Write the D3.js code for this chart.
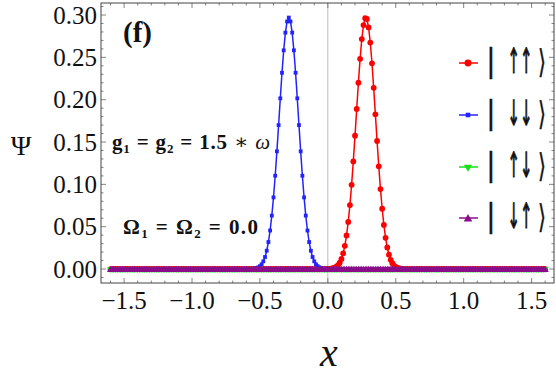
<!DOCTYPE html>
<html>
<head>
<meta charset="utf-8">
<script src="https://cdn.jsdelivr.net/npm/d3@7"></script>
<style>
  body { margin: 0; background: #fff; }
  svg { display: block; }
</style>
</head>
<body>
<svg id="chart" width="556" height="376"></svg>
<script>
// sample positions used by the solver (step 0.0125 from -1.6 to 1.6)
const xGrid = d3.range(-128, 129).map(i => i * 0.0125);

// non-zero part of |up up> , starting at x = 0.0
const upUpStart = 0.0;
const upUpPeak = [0.0001, 0.0002, 0.0005, 0.0009, 0.0016, 0.0027, 0.0046, 0.0075, 0.0119, 0.0184,
    0.0274, 0.0396, 0.0556, 0.0755, 0.0995, 0.1271, 0.1574, 0.1890, 0.2200, 0.2483,
    0.2716, 0.2881, 0.2963, 0.2953, 0.2854, 0.2675, 0.2430, 0.2140, 0.1827, 0.1512,
    0.1213, 0.0944, 0.0712, 0.0521, 0.0369, 0.0254, 0.0169, 0.0109, 0.0068, 0.0041,
    0.0024, 0.0014, 0.0008, 0.0004, 0.0002];

// non-zero part of |down down> , starting at x = -0.5625
const downDownStart = -0.5625;
const downDownPeak = [0.0001, 0.0003, 0.0006, 0.0011, 0.0020, 0.0034, 0.0056, 0.0091, 0.0142, 0.0216,
    0.0319, 0.0455, 0.0631, 0.0846, 0.1102, 0.1390, 0.1700, 0.2016, 0.2318, 0.2583,
    0.2792, 0.2924, 0.2970, 0.2924, 0.2792, 0.2583, 0.2318, 0.2016, 0.1700, 0.1390,
    0.1102, 0.0846, 0.0631, 0.0455, 0.0319, 0.0216, 0.0142, 0.0091, 0.0056, 0.0034,
    0.0020, 0.0011, 0.0006, 0.0003, 0.0001];

const seriesNames = ['upup', 'downdown', 'updown', 'downup'];
const seriesColors = ['#ff0000', '#2323ff', '#16e016', '#8b0d8b'];
const legendArrows = ['↑↑', '↓↓', '↑↓', '↓↑'];

const xTicks = [-1.5, -1.0, -0.5, 0.0, 0.5, 1.0, 1.5];
const yTicks = [0.00, 0.05, 0.10, 0.15, 0.20, 0.25, 0.30];

function chartVis() {
    const root = d3.select('#chart');

    const LEFT = 101, RIGHT = 554, TOP = 3, BOTTOM = 283;

    const x = d3.scaleLinear().domain([-1.67, 1.665]).range([LEFT, RIGHT]);
    const y = d3.scaleLinear().domain([-0.0165, 0.3142]).range([BOTTOM, TOP]);

    const SERIF = '"Liberation Serif", "DejaVu Serif", serif';

    drawFrame();
    drawSeries();
    drawLabels();
    drawLegend();

    function peakValue(xv, start, peak) {
        const k = Math.round((xv - start) / 0.0125);
        return (k >= 0 && k < peak.length) ? peak[k] : 0;
    }

    function makeSymbol(name, g, color) {
        if (name === 'upup') {
            g.append('circle').attr('r', 2.9).attr('fill', color);
        } else if (name === 'downdown') {
            g.append('rect').attr('x', -1.9).attr('y', -1.9).attr('width', 3.8).attr('height', 3.8).attr('fill', color);
        } else if (name === 'updown') {
            g.append('path').attr('d', d3.symbol(d3.symbolTriangle, 20)()).attr('transform', 'rotate(180)').attr('fill', color);
        } else {
            g.append('path').attr('d', d3.symbol(d3.symbolTriangle, 22)()).attr('transform', 'translate(0,0.8)').attr('fill', color);
        }
    }

    function drawFrame() {
        // zero line
        root.append('line')
            .attr('x1', x(0)).attr('x2', x(0))
            .attr('y1', TOP).attr('y2', BOTTOM)
            .attr('stroke', '#bdbdbd').attr('stroke-width', 1);

        const minorX = d3.range(-16, 17).map(i => i / 10);
        minorX.forEach(v => {
            const major = Math.abs(Math.round(v * 2) - v * 2) < 1e-6;
            const len = major ? 5 : 2.5;
            [[BOTTOM, -len], [TOP, len]].forEach(([yy, d]) => {
                root.append('line')
                    .attr('x1', x(v)).attr('x2', x(v))
                    .attr('y1', yy).attr('y2', yy + d)
                    .attr('stroke', '#666').attr('stroke-width', 0.8);
            });
        });
        const minorY = d3.range(-1, 32).map(i => i / 100);
        minorY.forEach(v => {
            const major = Math.abs(Math.round(v * 20) - v * 20) < 1e-6;
            const len = major ? 5 : 2.5;
            [[LEFT, len], [RIGHT, -len]].forEach(([xx, d]) => {
                root.append('line')
                    .attr('x1', xx).attr('x2', xx + d)
                    .attr('y1', y(v)).attr('y2', y(v))
                    .attr('stroke', '#666').attr('stroke-width', 0.8);
            });
        });

        root.append('rect')
            .attr('x', LEFT).attr('y', TOP)
            .attr('width', RIGHT - LEFT).attr('height', BOTTOM - TOP)
            .attr('fill', 'none').attr('stroke', '#444').attr('stroke-width', 1);

        xTicks.forEach(v => {
            root.append('text')
                .text(v < 0 ? '\u2212' + Math.abs(v).toFixed(1) : v.toFixed(1))
                .attr('x', x(v)).attr('y', 309)
                .attr('font-family', SERIF).attr('font-size', 25)
                .attr('fill', '#111').attr('text-anchor', 'middle');
        });
        yTicks.forEach(v => {
            root.append('text')
                .text(v.toFixed(2))
                .attr('x', 97).attr('y', y(v) + 8.5)
                .attr('font-family', SERIF).attr('font-size', 25)
                .attr('fill', '#111').attr('text-anchor', 'end');
        });

        root.append('text').text('Ψ')
            .attr('x', 21).attr('y', 155)
            .attr('font-family', SERIF).attr('font-size', 28)
            .attr('fill', '#111').attr('text-anchor', 'middle');
        root.append('text').text('x')
            .attr('x', 329).attr('y', 366)
            .attr('font-family', SERIF).attr('font-style', 'italic').attr('font-size', 40)
            .attr('fill', '#111').attr('text-anchor', 'middle');
    }

    function drawSeries() {
        const data = {
            upup: xGrid.map(v => [v, peakValue(v, upUpStart, upUpPeak)]),
            downdown: xGrid.map(v => [v, peakValue(v, downDownStart, downDownPeak)]),
            updown: xGrid.map(v => [v, 0]),
            downup: xGrid.map(v => [v, 0]),
        };
        const line = d3.line().x(d => x(d[0])).y(d => y(d[1]));

        seriesNames.forEach((name, i) => {
            const color = seriesColors[i];
            root.append('path')
                .attr('d', line(data[name]))
                .attr('fill', 'none').attr('stroke', color)
                .attr('stroke-width', 1.5);
            data[name].forEach(d => {
                const g = root.append('g')
                    .attr('transform', `translate(${x(d[0])},${y(d[1])})`);
                makeSymbol(name, g, color);
            });
        });
    }

    function drawLabels() {
        root.append('text').text('(f)')
            .attr('x', 123).attr('y', 42)
            .attr('font-family', SERIF).attr('font-weight', 'bold').attr('font-size', 29)
            .attr('fill', '#111');

        const g = root.append('text')
            .attr('x', 112).attr('y', 149)
            .attr('textLength', 158).attr('lengthAdjust', 'spacing')
            .attr('font-family', SERIF).attr('font-weight', 'bold').attr('font-size', 21)
            .attr('fill', '#111');
        g.append('tspan').text('g');
        g.append('tspan').text('1').attr('font-size', 13).attr('dy', 4);
        g.append('tspan').text(' = g').attr('dy', -4);
        g.append('tspan').text('2').attr('font-size', 13).attr('dy', 4);
        g.append('tspan').text(' = 1.5 ').attr('dy', -4);
        g.append('tspan').text('∗ ').attr('font-weight', 'normal');
        g.append('tspan').text('ω').attr('font-weight', 'normal').attr('font-style', 'italic');

        const o = root.append('text')
            .attr('x', 123).attr('y', 234)
            .attr('textLength', 135).attr('lengthAdjust', 'spacing')
            .attr('font-family', SERIF).attr('font-weight', 'bold').attr('font-size', 21)
            .attr('fill', '#111');
        o.append('tspan').text('Ω');
        o.append('tspan').text('1').attr('font-size', 13).attr('dy', 4);
        o.append('tspan').text(' = Ω').attr('dy', -4);
        o.append('tspan').text('2').attr('font-size', 13).attr('dy', 4);
        o.append('tspan').text(' = 0.0').attr('dy', -4);
    }

    function drawLegend() {
        const rowY = [63, 115, 167, 218];
        seriesNames.forEach((name, i) => {
            const color = seriesColors[i];
            const cy = rowY[i];
            root.append('line')
                .attr('x1', 459).attr('x2', 478)
                .attr('y1', cy).attr('y2', cy)
                .attr('stroke', color).attr('stroke-width', 1.5);
            const g = root.append('g').attr('transform', `translate(468,${cy}) scale(1.2)`);
            makeSymbol(name, g, color);

            root.append('text').text('|')
                .attr('transform', `translate(491,${cy + 8}) scale(1,1.25)`)
                .attr('font-family', 'DejaVu Sans').attr('font-size', 26)
                .attr('fill', '#111').attr('stroke', '#111').attr('stroke-width', 0.4)
                .attr('text-anchor', 'middle');
            root.append('text').text(legendArrows[i])
                .attr('transform', `translate(520,${cy + 10}) scale(0.62,1.45)`)
                .attr('font-family', 'DejaVu Sans').attr('font-size', 24)
                .attr('fill', '#111').attr('stroke', '#111').attr('stroke-width', 0.7)
                .attr('text-anchor', 'middle');
            root.append('text').text('⟩')
                .attr('transform', `translate(542,${cy + 10}) scale(0.85,1.35)`)
                .attr('font-family', 'DejaVu Sans').attr('font-size', 24)
                .attr('fill', '#111').attr('stroke', '#111').attr('stroke-width', 0.3)
                .attr('text-anchor', 'middle');
        });
    }
}

chartVis();
</script>
</body>
</html>
